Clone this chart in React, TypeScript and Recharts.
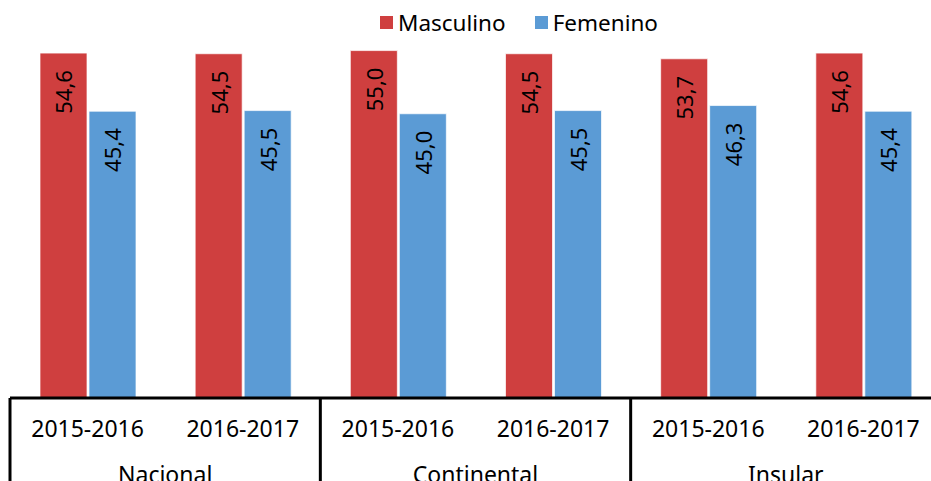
import { BarChart, Bar, XAxis, YAxis, LabelList } from 'recharts';

const groups = ['Nacional', 'Continental', 'Insular'];
const periods = ['2015-2016', '2016-2017'];
const masculino = [54.6, 54.5, 55.0, 54.5, 53.7, 54.6];
const femenino = [45.4, 45.5, 45.0, 45.5, 46.3, 45.4];

const series = [
  { key: 'masculino', name: 'Masculino', color: '#CF3F3F', values: masculino },
  { key: 'femenino', name: 'Femenino', color: '#5B9BD5', values: femenino },
];

const data = masculino.map((m, i) => ({
  label: `${groups[Math.floor(i / 2)]}|${periods[i % 2]}`,
  period: periods[i % 2],
  group: groups[Math.floor(i / 2)],
  masculino: m,
  femenino: femenino[i],
}));

const FONT = '"Noto Sans", "Open Sans", sans-serif';
const CHART_W = 960;
const CHART_H = 488;
const MARGIN = { top: 19, right: 19, bottom: 0, left: 10 };
const BAND = (CHART_W - MARGIN.left - MARGIN.right) / data.length;
const AXIS_H = 90;

const fmt = (v: number) => v.toFixed(1).replace('.', ',');

// value written upward, inside the top of the bar
const BarValue = (props: any) => {
  const { x, y, width, value } = props;
  const cx = x + width / 2;
  const ty = y + 17;
  return (
    <text
      x={cx}
      y={ty}
      transform={`rotate(-90, ${cx}, ${ty})`}
      textAnchor="end"
      dominantBaseline="central"
      fontSize={22}
      fontFamily={FONT}
      fill="#000"
    >
      {fmt(value)}
    </text>
  );
};

// two-level category tick: period on top, group name and separators below
const CategoryTick = (props: any) => {
  const { x, y, payload, index } = props;
  const row = data[index] ?? data[payload.index] ?? {};
  const isFirst = index % 2 === 0;
  const isLast = index === data.length - 1;
  return (
    <g>
      <text x={x} y={y + 39} textAnchor="middle" fontSize={23} fontFamily={FONT} fill="#000">
        {row.period}
      </text>
      {isFirst && (
        <>
          <line x1={x - BAND / 2} x2={x - BAND / 2} y1={y} y2={y + AXIS_H} stroke="#000" strokeWidth={3} />
          <text x={x + BAND / 2} y={y + 85} textAnchor="middle" fontSize={23} fontFamily={FONT} fill="#000">
            {row.group}
          </text>
        </>
      )}
      {isLast && (
        <line x1={x + BAND / 2} x2={x + BAND / 2} y1={y} y2={y + AXIS_H} stroke="#000" strokeWidth={3} />
      )}
    </g>
  );
};

export default function App() {
  return (
    <div
      style={{
        position: 'fixed',
        top: 0,
        left: 0,
        width: 931,
        height: 481,
        overflow: 'hidden',
        background: '#fff',
      }}
    >
      <BarChart width={CHART_W} height={CHART_H} data={data} margin={MARGIN} barSize={47} barGap={2}>
        <XAxis
          dataKey="label"
          interval={0}
          tick={<CategoryTick />}
          tickLine={false}
          tickSize={0}
          tickMargin={0}
          height={AXIS_H}
          axisLine={{ stroke: '#000', strokeWidth: 3 }}
        />
        <YAxis hide domain={[0, 60]} />
        {series.map((s) => (
          <Bar
            key={s.key}
            dataKey={s.key}
            name={s.name}
            fill={s.color}
            stroke="#fff"
            strokeWidth={1}
            strokeOpacity={0.7}
            isAnimationActive={false}
          >
            <LabelList dataKey={s.key} content={<BarValue />} />
          </Bar>
        ))}
      </BarChart>
      <div
        style={{
          position: 'absolute',
          top: 7,
          left: 380,
          display: 'flex',
          alignItems: 'center',
          fontFamily: FONT,
          fontSize: 22.5,
          color: '#000',
        }}
      >
        {series.map((s, i) => (
          <div key={s.key} style={{ display: 'flex', alignItems: 'center', marginLeft: i ? 29 : 0 }}>
            <span style={{ width: 13, height: 13, background: s.color, marginRight: 5, display: 'inline-block' }} />
            <span>{s.name}</span>
          </div>
        ))}
      </div>
    </div>
  );
}
